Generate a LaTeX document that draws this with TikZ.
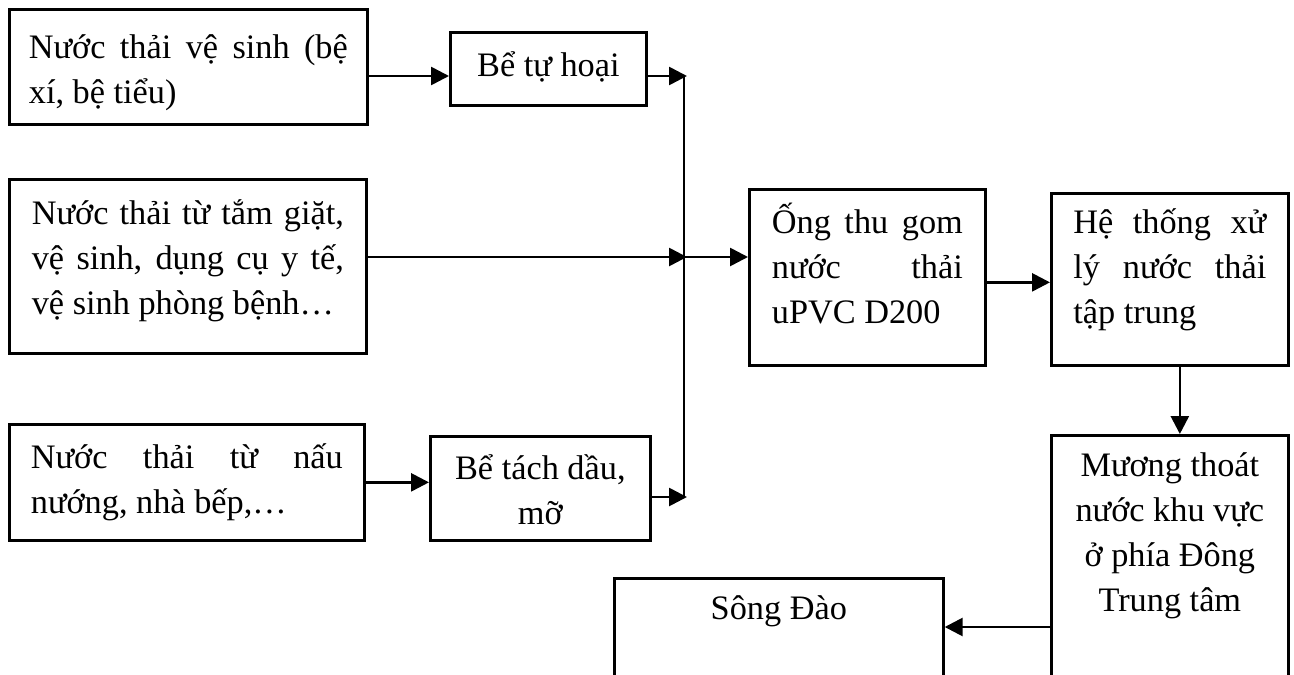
\documentclass[tikz,border=0pt]{standalone}
\usepackage{fontspec}
\setmainfont{Liberation Serif}
\usetikzlibrary{arrows.meta}
\newcommand\bxt[4]{\parbox[c][#2][t]{#1}{\fontsize{34.3}{45}\selectfont\vspace*{#3}#4}}
\begin{document}
\begin{tikzpicture}[x=1pt,y=-1pt,
  box/.style={draw, line width=2.7pt, inner sep=0pt, anchor=north west},
  arr/.style={line width=2.7pt, -{Triangle[length=18pt,width=18pt]}},
  lnk/.style={line width=2.7pt}]
\useasboundingbox (0,0) rectangle (1294,675);
\clip (0,0) rectangle (1294,675);
\fill[white] (0,0) rectangle (1294,675);
% boxes
\node[box, minimum width=358pt, minimum height=115pt] (A) at (8,8)
  {\bxt{319pt}{115pt}{18pt}{\strut Nước thải vệ sinh (bệ\linebreak xí, bệ tiểu)}};
\node[box, minimum width=196pt, minimum height=73pt] (B) at (449,31)
  {\bxt{180pt}{73pt}{12.5pt}{\centering\strut Bể tự hoại}};
\node[box, minimum width=357pt, minimum height=174pt] (C) at (8,178)
  {\bxt{312pt}{174pt}{13.5pt}{\strut Nước thải từ tắm giặt,\linebreak vệ sinh, dụng cụ y tế,\linebreak vệ sinh phòng bệnh…}};
\node[box, minimum width=355pt, minimum height=116pt] (D) at (8,423)
  {\bxt{312pt}{116pt}{12.5pt}{\strut Nước thải từ nấu\linebreak nướng, nhà bếp,…}};
\node[box, minimum width=220pt, minimum height=104pt] (E) at (429,435)
  {\bxt{200pt}{104pt}{11.5pt}{\centering\strut Bể tách dầu,\\ mỡ}};
\node[box, minimum width=236pt, minimum height=176pt] (F) at (748,188)
  {\bxt{191pt}{176pt}{12.5pt}{\strut Ống thu gom\linebreak nước thải\linebreak uPVC D200}};
\node[box, minimum width=237pt, minimum height=172pt] (G) at (1050,192)
  {\bxt{193pt}{172pt}{8.5pt}{\strut Hệ thống xử\linebreak lý nước thải\linebreak tập trung}};
\node[box, minimum width=237pt, minimum height=260pt] (H) at (1050,434)
  {\bxt{220pt}{260pt}{9.5pt}{\centering\strut Mương thoát\\ nước khu vực\\ ở phía Đông\\ Trung tâm}};
\node[box, minimum width=329pt, minimum height=130pt] (I) at (613,577)
  {\bxt{300pt}{130pt}{9.5pt}{\centering\strut Sông Đào}};
% junction line
\coordinate (jtop) at (684,76);
\coordinate (jmid) at (684,257);
\coordinate (jbot) at (684,497);
\coordinate (hi) at (1000,627);
\draw[lnk] (jtop) -- (jbot);
% connectors
\draw[arr] (A.east |- jtop) -- (B.west |- jtop);
\draw[arr] (B.east |- jtop) -- ([xshift=3pt]jtop);
\draw[arr] (C.east |- jmid) -- ([xshift=3pt]jmid);
\draw[arr] (jmid) -- (F.west |- jmid);
\draw[arr] (D.east) -- (E.west |- D.east);
\draw[arr] (E.east |- jbot) -- ([xshift=3pt]jbot);
\draw[arr] ([yshift=-5pt]F.east) -- ([yshift=-5pt]F.east -| G.west);
\draw[arr] ([xshift=10pt]G.south) -- ([xshift=10pt]G.south |- H.north);
\draw[arr] (H.west |- hi) -- (I.east |- hi);
\end{tikzpicture}
\end{document}
